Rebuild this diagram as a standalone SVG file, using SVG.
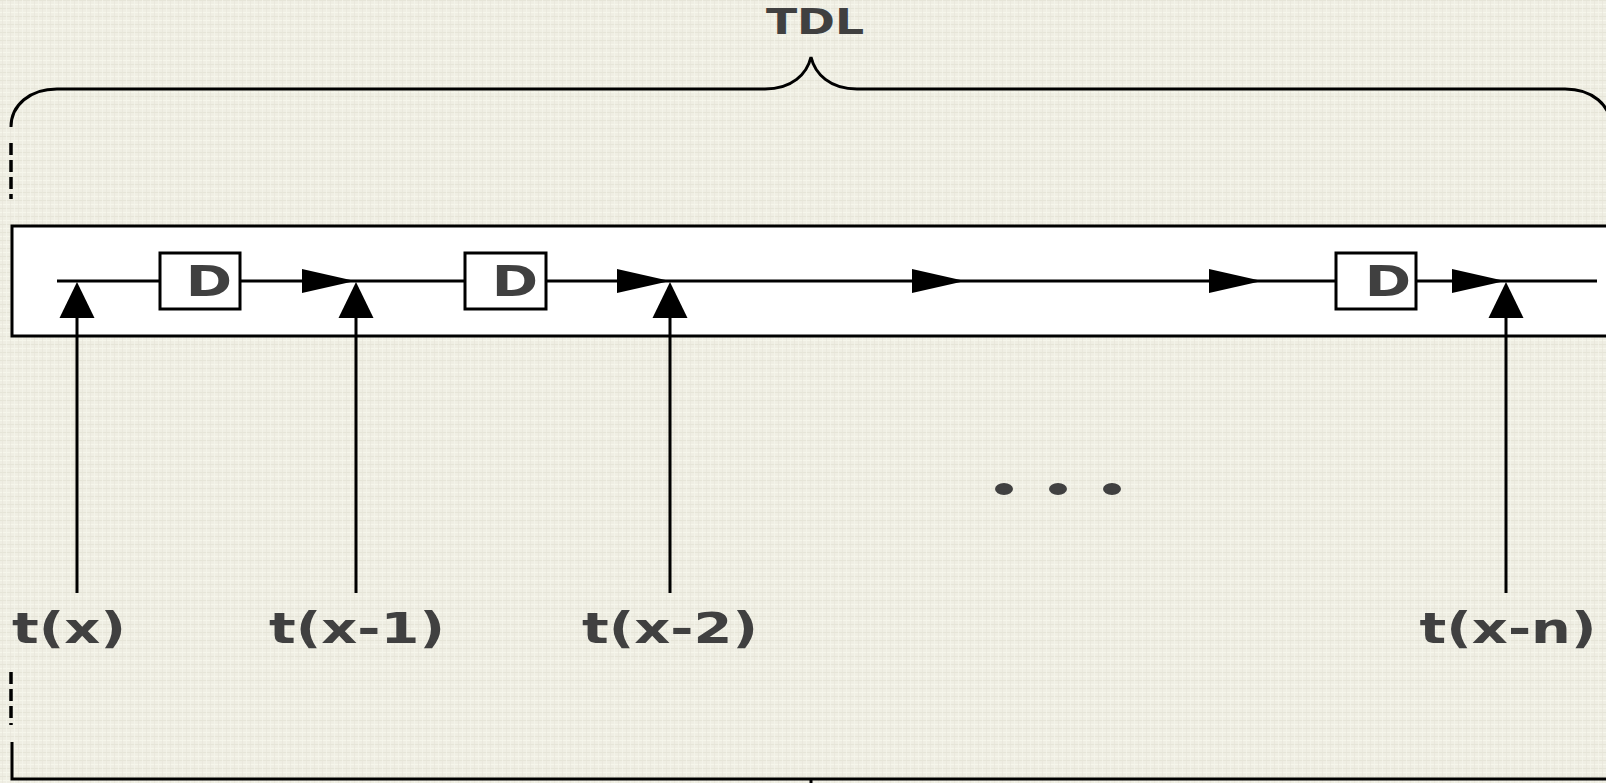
<svg xmlns="http://www.w3.org/2000/svg" xmlns:xlink="http://www.w3.org/1999/xlink" width="1606" height="783" viewBox="0 0 1606 783">
  <style>
    .ln { fill: none; stroke: #000; stroke-width: 3; }
    .dash { fill: none; stroke: #000; stroke-width: 3.5; stroke-dasharray: 12 5; }
    .box { fill: #fff; stroke: #000; stroke-width: 3; }
    .tx { font-family: "DejaVu Sans", "Verdana", sans-serif; font-weight: bold; fill: #404040; text-anchor: middle; }
    .lbl { font-size: 43px; }
    .dl { font-size: 43px; }
    .ttl { font-size: 36px; }
    .head { fill: #000; }
  </style>
  <defs>
    <!-- linen-like paper texture -->
    <pattern id="linen" width="8" height="8" patternUnits="userSpaceOnUse">
      <rect width="8" height="8" fill="#efeee3"/>
      <rect x="0" y="0" width="8" height="1" fill="#e3e2d4" opacity="0.7"/>
      <rect x="0" y="4" width="8" height="1" fill="#f7f7ee" opacity="0.8"/>
      <rect x="2" y="0" width="1" height="8" fill="#e6e5d8" opacity="0.6"/>
      <rect x="6" y="0" width="1" height="8" fill="#f6f6ec" opacity="0.7"/>
    </pattern>
    <path id="ah" d="M0,0 L-53,-12 L-53,12 Z"/>
    <path id="au" d="M0,0 L-17.5,36 L17.5,36 Z"/>
  </defs>

  <rect width="1606" height="783" fill="url(#linen)"/>

  <!-- top brace with title -->
  <g id="brace-top">
    <path class="ln" d="M11,127 C11,105 30,89 57,89 L765,89 C792,89 807,74 811,57 C815,74 830,89 857,89 L1565,89 C1592,89 1611,105 1611,127"/>
    <line class="dash" x1="11" y1="143" x2="11" y2="199"/>
    <text class="tx ttl" transform="translate(815,34) scale(1.27,1)">TDL</text>
  </g>

  <!-- bottom brace -->
  <g id="brace-bottom">
    <line class="dash" x1="11" y1="672" x2="11" y2="725"/>
    <path class="ln" d="M12,742 L12,779 L1610,779"/>
    <line class="ln" x1="811" y1="779" x2="811" y2="790"/>
  </g>

  <!-- delay line panel -->
  <g id="panel">
    <rect class="box" x="12" y="226" width="1610" height="110"/>
  </g>

  <!-- connectors -->
  <g id="connectors">
    <line class="ln" x1="57" y1="281" x2="1597" y2="281"/>
    <line class="ln" x1="77" y1="318" x2="77" y2="593"/>
    <line class="ln" x1="356" y1="318" x2="356" y2="593"/>
    <line class="ln" x1="670" y1="318" x2="670" y2="593"/>
    <line class="ln" x1="1506" y1="318" x2="1506" y2="593"/>
    <use class="head" xlink:href="#ah" x="355" y="281"/>
    <use class="head" xlink:href="#ah" x="670" y="281"/>
    <use class="head" xlink:href="#ah" x="965" y="281"/>
    <use class="head" xlink:href="#ah" x="1262" y="281"/>
    <use class="head" xlink:href="#ah" x="1505" y="281"/>
    <use class="head" xlink:href="#au" x="77" y="282"/>
    <use class="head" xlink:href="#au" x="356" y="282"/>
    <use class="head" xlink:href="#au" x="670" y="282"/>
    <use class="head" xlink:href="#au" x="1506" y="282"/>
  </g>

  <!-- delay elements -->
  <g id="delay-1">
    <rect class="box" x="160" y="253" width="80" height="56"/>
    <text class="tx dl" transform="translate(209,296) scale(1.3,1)">D</text>
  </g>
  <g id="delay-2">
    <rect class="box" x="465" y="253" width="81" height="56"/>
    <text class="tx dl" transform="translate(515,296) scale(1.3,1)">D</text>
  </g>
  <g id="delay-n">
    <rect class="box" x="1336" y="253" width="80" height="56"/>
    <text class="tx dl" transform="translate(1388,296) scale(1.3,1)">D</text>
  </g>

  <!-- tap inputs -->
  <g id="in-0"><text class="tx lbl" transform="translate(69,643) scale(1.3,1)">t(x)</text></g>
  <g id="in-1"><text class="tx lbl" transform="translate(357,643) scale(1.3,1)">t(x-1)</text></g>
  <g id="in-2"><text class="tx lbl" transform="translate(670,643) scale(1.3,1)">t(x-2)</text></g>
  <g id="in-n"><text class="tx lbl" transform="translate(1508,643) scale(1.3,1)">t(x-n)</text></g>

  <!-- ellipsis -->
  <g id="ellipsis" fill="#404040">
    <ellipse cx="1004" cy="489" rx="9" ry="6"/>
    <ellipse cx="1058" cy="489" rx="9" ry="6"/>
    <ellipse cx="1112" cy="489" rx="9" ry="6"/>
  </g>
</svg>
